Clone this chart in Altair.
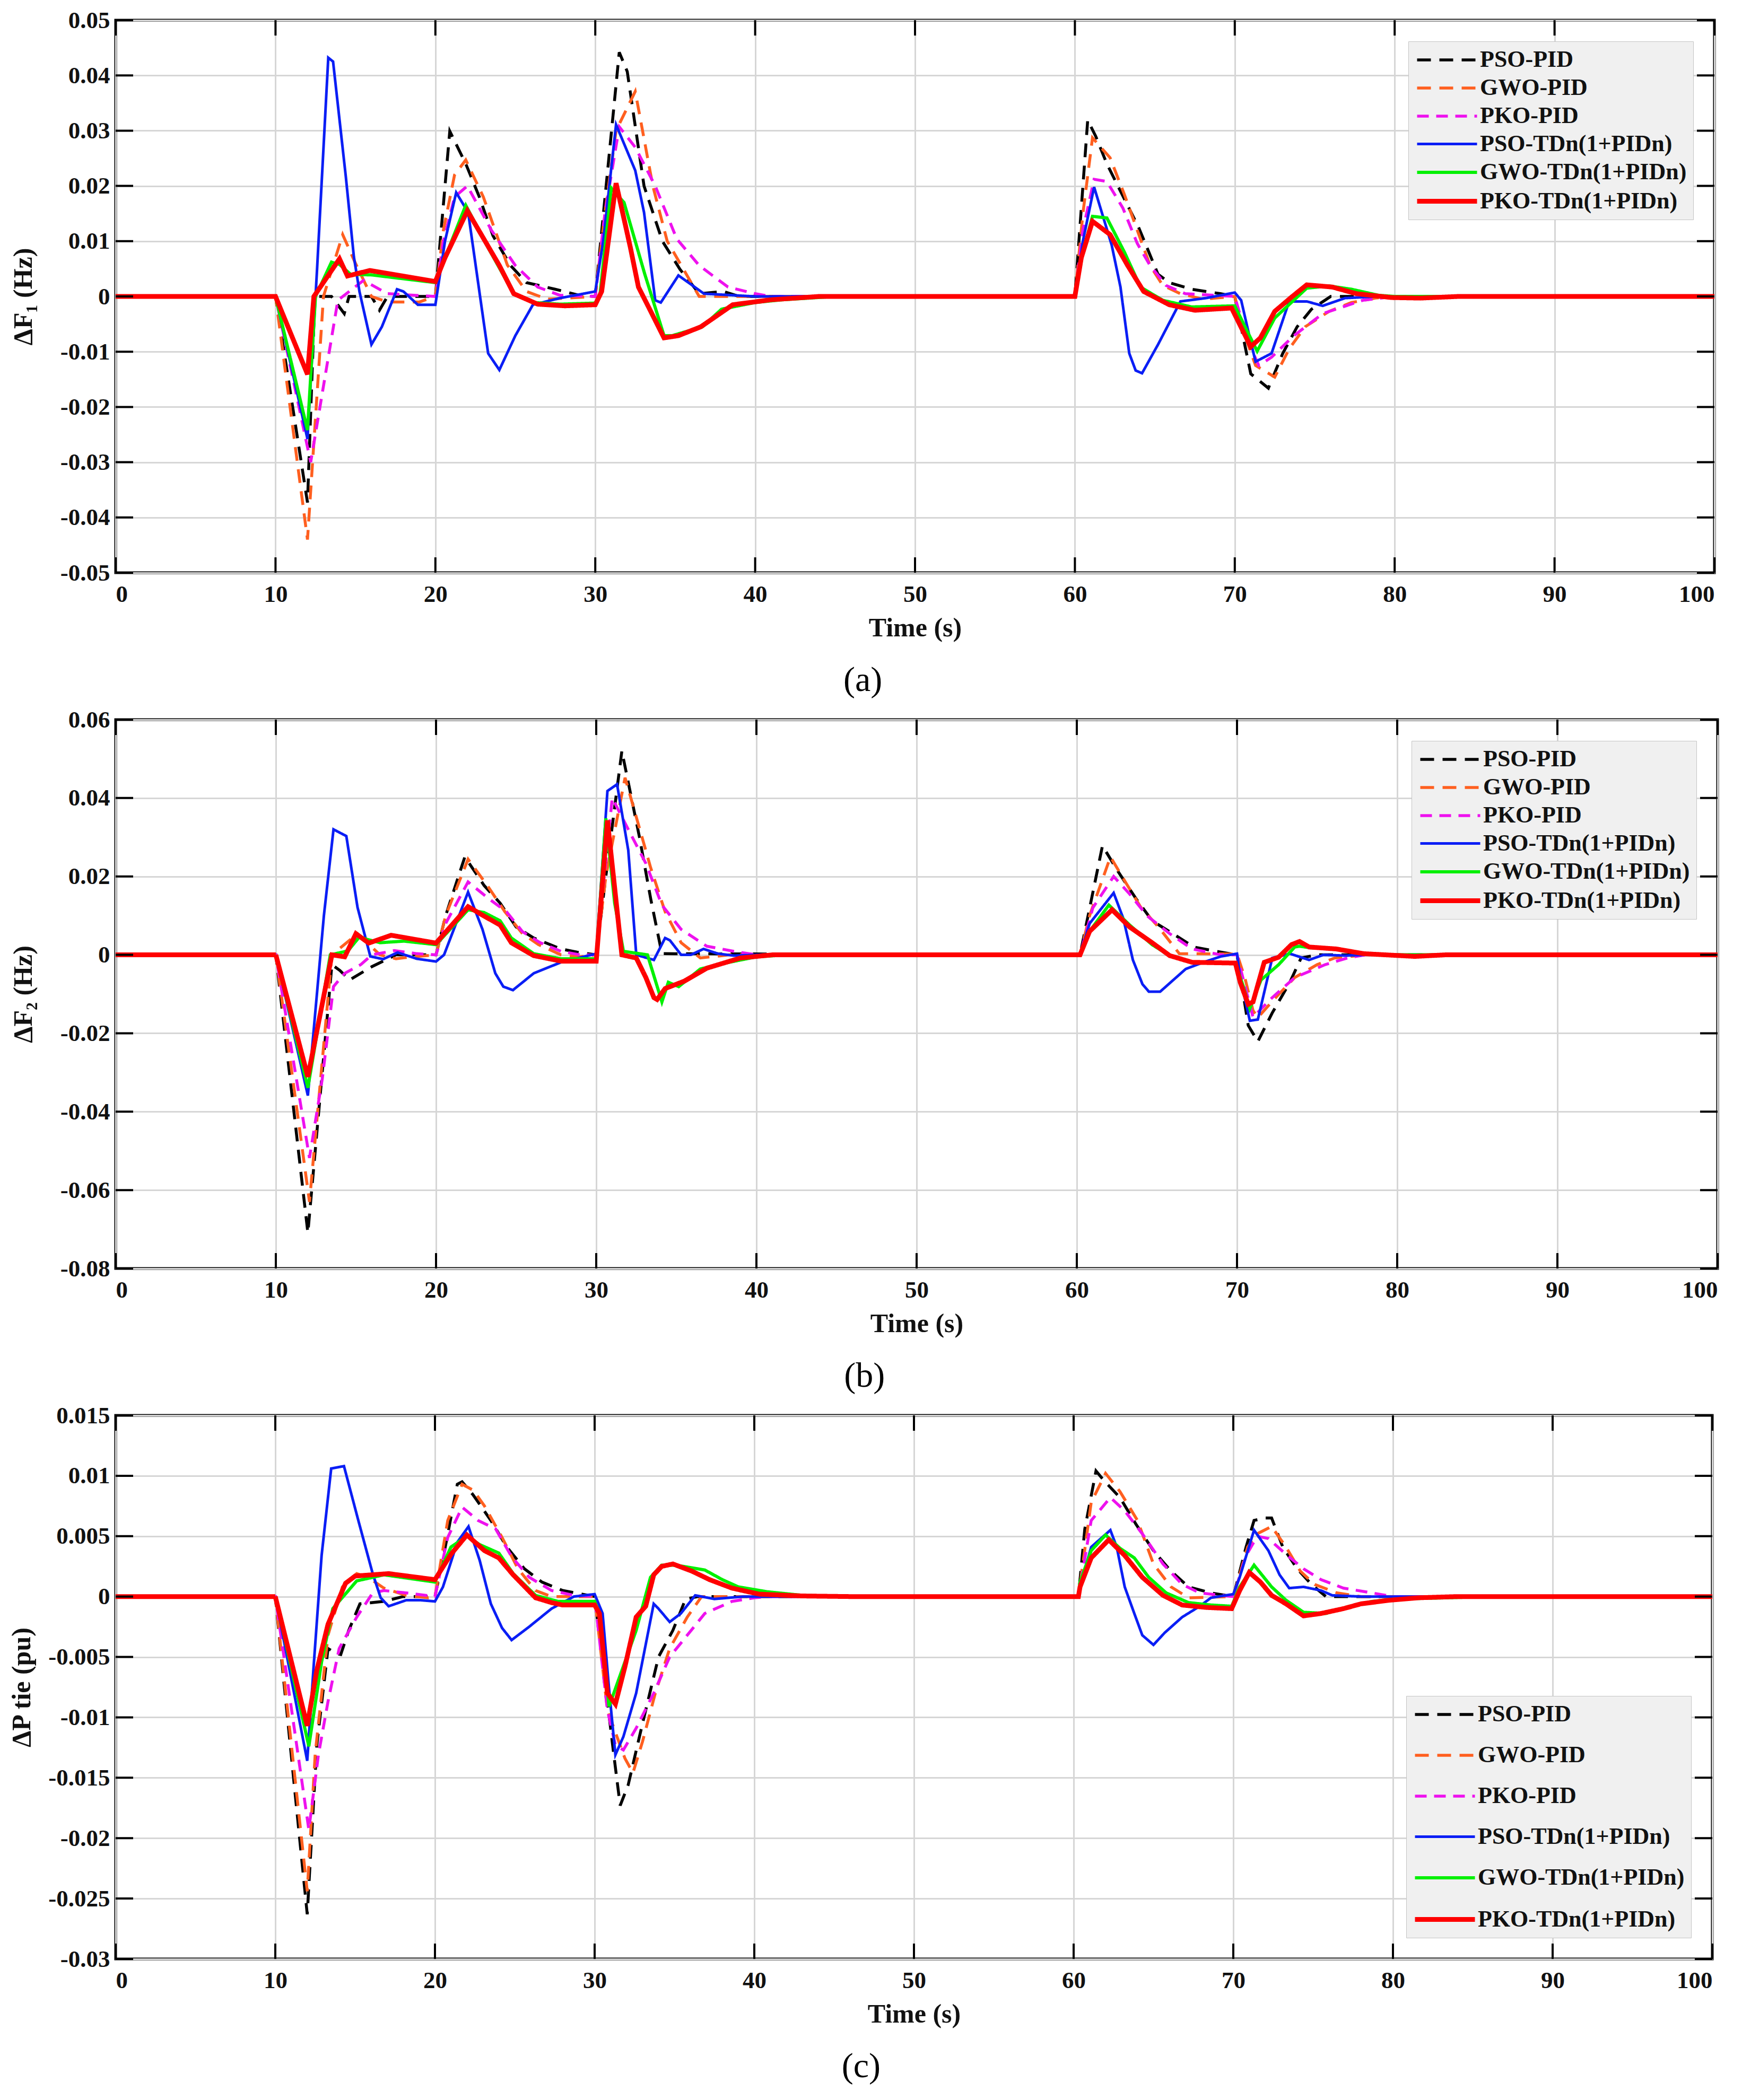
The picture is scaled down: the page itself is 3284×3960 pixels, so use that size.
import altair as alt
import pandas as pd

SERIES = ["PSO-PID", "GWO-PID", "PKO-PID", "PSO-TDn(1+PIDn)", "GWO-TDn(1+PIDn)", "PKO-TDn(1+PIDn)"]
COLORS = ["#000000", "#FF5F1F", "#EE11EE", "#0A1EF5", "#00F000", "#FF0000"]
DASHES = [[26, 16], [26, 16], [22, 14], [1, 0], [1, 0], [1, 0]]
WIDTHS = [5.5, 5.5, 5.5, 5, 6, 9]

XTICKS = [0, 10, 20, 30, 40, 50, 60, 70, 80, 90, 100]
Y_A = [-0.05, -0.04, -0.03, -0.02, -0.01, 0, 0.01, 0.02, 0.03, 0.04, 0.05]
Y_B = [-0.08, -0.06, -0.04, -0.02, 0, 0.02, 0.04, 0.06]
Y_C = [-0.03, -0.025, -0.02, -0.015, -0.01, -0.005, 0, 0.005, 0.01, 0.015]

# ---------------- panel (a): delta F1 ----------------
A_PSO_PID = [(0,0),(10,0),(12,-0.0373),(12.46,0),(13.5,0),(14.3,-0.0031),(14.6,0),(16,0),(16.5,-0.0025),(17,0),(20,0),
             (20.9,0.0299),(21.9,0.024),(22.75,0.018),(23.6,0.011),(24.7,0.0056),(25.7,0.0025),(27.5,0.0013),(29,0.0002),(30,0),
             (31.5,0.0442),(32,0.0407),(33.05,0.020),(34.2,0.010),(35.3,0.0049),(36.5,0.0005),(38,0.0009),(39,0),
             (60,0),(60.8,0.0319),(61.3,0.029),(62,0.024),(63.1,0.0176),(64,0.0124),(65.2,0.004),(65.9,0.0025),(67.3,0.0013),
             (69.1,0.0005),(70,0),(71,-0.014),(72.1,-0.0166),(73,-0.0103),(73.9,-0.0055),(74.8,-0.0023),(76,0),(100,0)]
A_GWO_PID = [(0,0),(10,0),(12,-0.044),(13,0),(14.2,0.0112),(15,0.006),(16,0),(17,-0.001),(19,-0.001),(20,0),
             (20.5,0.012),(21.2,0.022),(21.9,0.0247),(23,0.018),(24.5,0.0057),(25.7,0.0009),(27,-0.0005),(30,0),
             (30.6,0.015),(31.3,0.030),(32.5,0.0371),(33.6,0.02),(34.5,0.01),(35.5,0.005),(36.5,0),
             (60,0),(60.5,0.015),(61.1,0.0287),(62.2,0.0251),(63.1,0.0184),(64,0.0112),(64.7,0.0056),(65.5,0.002),(66.6,0.0005),
             (68,-0.0005),(70,0),(70.5,-0.006),(71.3,-0.0125),(72.5,-0.0146),(73.4,-0.0095),(74.4,-0.0055),(75.9,-0.0027),
             (77.3,-0.0011),(78.8,-0.0003),(80,0),(100,0)]
A_PKO_PID = [(0,0),(10,0),(12.2,-0.030),(13.9,-0.0007),(15.5,0.0029),(17,0.0005),(20,0),
             (20.5,0.010),(21.2,0.018),(22,0.020),(23.5,0.012),(25,0.0056),(26.4,0.0017),(27.8,0.0002),(30,0),
             (30.6,0.015),(31.5,0.0307),(32.5,0.027),(33.75,0.020),(35.1,0.0104),(36.5,0.0056),(38.3,0.0017),(40,0.0005),(41,0),
             (60,0),(60.5,0.012),(61.2,0.0212),(62,0.0208),(63,0.016),(63.9,0.0096),(64.7,0.0056),(65.7,0.002),(66.9,0.0005),
             (70,0),(70.8,-0.008),(71.5,-0.0125),(72.3,-0.011),(73.7,-0.0071),(75.5,-0.0031),(78,-0.0007),(80,0),(100,0)]
A_PSO_TD = [(0,0),(10,0),(12,-0.0258),(12.6,0.005),(13.3,0.0432),(13.6,0.0425),(14.4,0.0216),(14.9,0.0072),(15.25,0.0009),
            (16,-0.0087),(16.65,-0.0055),(17.6,0.0013),(18,0.0009),(18.9,-0.0015),(20,-0.0015),
            (20.6,0.01),(21.3,0.0188),(22.05,0.0152),(22.75,0.0009),(23.3,-0.0103),(24,-0.0133),(25,-0.0071),(26.1,-0.0015),
            (27.8,-0.0003),(30,0.0009),(30.5,0.01),(31.3,0.0311),(32.5,0.0228),(33.05,0.0152),(33.75,-0.0007),(34.1,-0.0011),
            (35.2,0.0038),(36.8,0.0005),(40,0),
            (60,0),(60.5,0.01),(61.2,0.0198),(62.3,0.0093),(62.85,0.0017),(63.4,-0.0103),(63.8,-0.0134),(64.2,-0.0139),
            (65.2,-0.0087),(66.6,-0.0009),(68.2,-0.0003),(70,0.0007),(70.4,-0.0007),(70.9,-0.007),(71.3,-0.0118),(72.3,-0.0103),
            (73.4,-0.0009),(74.5,-0.0009),(75.5,-0.0017),(76.9,-0.0003),(79,0),(100,0)]
A_GWO_TD = [(0,0),(10,0),(12,-0.0242),(12.5,0),(13.5,0.0062),(14,0.0058),(14.7,0.004),(16,0.0039),(20,0.0025),
            (20.6,0.007),(21.9,0.0165),(23.3,0.0088),(24.9,0.0005),(26.1,-0.0011),(27.8,-0.0014),(30,-0.0012),
            (30.3,0.0005),(31,0.0196),(31.8,0.017),(33.1,0.004),(34.3,-0.0071),(34.8,-0.0071),(36.7,-0.0055),(37.9,-0.0023),
            (40,-0.0011),(41.7,-0.0006),(45,0),
            (60,0),(60.5,0.008),(61.1,0.0145),(62,0.0142),(63.1,0.008),(64.1,0.0017),(65.5,-0.0007),(67.3,-0.0019),(70,-0.0017),
            (70.9,-0.007),(71.4,-0.0099),(72.5,-0.0039),(74.5,0.0015),(75.9,0.0019),(77.3,0.0013),(79,0.0002),(80,0),(100,0)]
A_PKO_TD = [(0,0),(10,0),(12,-0.0141),(12.4,0),(14,0.0068),(14.5,0.0037),(15.9,0.0047),(20,0.0027),
            (20.6,0.007),(22,0.0155),(24,0.0056),(24.9,0.0005),(26.4,-0.0014),(28.1,-0.0017),(30,-0.0015),
            (30.4,0.0009),(31.3,0.0205),(32.2,0.0088),(32.7,0.0017),(33.4,-0.0023),(34.3,-0.0075),(35.2,-0.0071),
            (36.6,-0.0055),(38.6,-0.0015),(41,-0.0006),(44,0),
            (60,0),(60.4,0.007),(61.1,0.0136),(62.2,0.0112),(63.3,0.0056),(64.3,0.0009),(65.9,-0.0015),(67.5,-0.0025),
            (69.8,-0.0021),(71,-0.0091),(71.6,-0.0075),(72.5,-0.0027),(73.6,0),(74.5,0.0021),(76.1,0.0017),(77.6,0.0005),
            (79.8,-0.0002),(81.6,-0.0003),(84,0),(100,0)]

# ---------------- panel (b): delta F2 ----------------
B_PSO_PID = [(0,0),(10,0),(12,-0.0709),(13.5,-0.0025),(14,-0.004),(14.6,-0.0064),(16,-0.003),(17.5,0),(20,0),
             (20.6,0.01),(21.8,0.025),(23,0.0177),(24,0.0132),(25,0.0071),(26.1,0.0043),(27.8,0.0015),(28.8,0.0007),(30,0),
             (30.6,0.02),(31.6,0.052),(32.7,0.030),(33.4,0.0143),(34.1,0.0003),
             (60.2,0),(61.6,0.0278),(62.6,0.0211),(63.7,0.0143),(64.7,0.0087),(65.8,0.0059),(67.3,0.002),(68.7,0.0009),(70,0),
             (70.7,-0.018),(71.3,-0.0221),(72.2,-0.0148),(73.3,-0.007),(74,-0.0008),(75,0),(100,0)]
B_GWO_PID = [(0,0),(10,0),(12.1,-0.063),(13.5,0),(15.1,0.0054),(16.5,0),(17.5,-0.001),(18.5,-0.0005),(20,0),
             (20.6,0.01),(22,0.0244),(23.2,0.0177),(24.3,0.011),(25.4,0.0054),(26.4,0.0026),(27.8,0),(29,-0.0005),(30,0),
             (30.6,0.02),(31.8,0.0452),(32.7,0.0323),(33.4,0.0222),(34.3,0.011),(35.3,0.0031),(36.5,-0.0008),(38.3,0),
             (60.2,0),(60.8,0.01),(62.1,0.025),(63,0.0188),(64,0.0121),(65.1,0.0071),(66.4,0.0003),(70,0.0002),
             (70.5,-0.006),(71,-0.0142),(71.3,-0.016),(72.3,-0.0114),(73.6,-0.0058),(75,-0.0025),(76.1,-0.0008),(78,0),(100,0)]
B_PKO_PID = [(0,0),(10,0),(12.1,-0.0518),(12.9,-0.0316),(13.6,-0.0081),(14.3,-0.0047),(15.3,-0.0025),(16,0),(17.4,0.0011),
             (18.8,0.0003),(20,0),(20.6,0.008),(22,0.0186),(23.3,0.0143),(24.4,0.011),(25.4,0.0059),(26.5,0.0031),
             (27.8,0.0009),(29,0),(30,0),(31,0.040),(32,0.032),(33.1,0.0233),(34.1,0.0127),(35.3,0.0065),(36.9,0.0022),
             (38.6,0.0009),(40,0),
             (60.2,0),(61,0.012),(62.3,0.02),(63.3,0.0155),(64.4,0.0099),(65.8,0.0054),(67.2,0.0015),(69,0),(70,0),
             (70.5,-0.008),(71,-0.0159),(72.2,-0.0109),(73.6,-0.0058),(75.5,-0.0025),(76.9,-0.0008),(78,0),(100,0)]
B_PSO_TD = [(0,0),(10,0),(12,-0.0359),(13,0.01),(13.6,0.032),(14.4,0.0303),(15.1,0.0121),(15.9,-0.0004),(16.7,-0.0011),
            (17.6,0.0006),(18.8,-0.001),(20,-0.0017),(20.5,0),(22,0.016),(22.9,0.0065),(23.7,-0.0047),(24.2,-0.0081),
            (24.8,-0.009),(26.1,-0.0047),(27.8,-0.0019),(30,0.0003),(30.7,0.0418),(31.3,0.0435),(32,0.0267),(32.5,0),
            (33.6,-0.0013),(34.3,0.0043),(34.6,0.0037),(35.3,0),(35.9,0),(36.7,0.0015),(37.6,0.0003),(38.6,-0.0002),(40,0),
            (60.2,0),(60.8,0.008),(62.3,0.0158),(62.9,0.0093),(63.5,-0.0013),(64.1,-0.0075),(64.5,-0.0094),(65.2,-0.0094),
            (66.8,-0.0036),(67.9,-0.0019),(69,-0.0004),(70,0.0003),(70.2,-0.0058),(70.8,-0.0168),(71.3,-0.0165),
            (72.2,-0.0008),(73.3,0.0003),(74.5,-0.0013),(75.4,0),(76.8,-0.0002),(78,0),(100,0)]
B_GWO_TD = [(0,0),(10,0),(12,-0.0339),(13.4,0),(14.5,0.001),(15.2,0.0045),(16.5,0.0031),(18,0.0035),(20,0.0026),
            (22,0.0115),(23,0.0108),(24,0.0087),(24.7,0.0043),(26.1,0.0003),(27.8,-0.001),(30,-0.001),
            (30.6,0.0348),(31.15,0.0132),(31.7,0.0009),(33.2,0),(34.1,-0.012),(34.5,-0.007),(35.15,-0.0081),(36.5,-0.0036),
            (38.3,-0.0019),(40,-0.0005),(42,0),
            (60.2,0),(60.8,0.006),(62,0.0127),(63.3,0.0076),(64.7,0.0026),(65.8,-0.0002),(67.2,-0.0019),(69.9,-0.0022),
            (70.4,-0.0081),(70.8,-0.0137),(71.5,-0.0064),(72.6,-0.0025),(73.6,0.002),(73.9,0.0022),(74.6,0.0018),
            (76.1,0.0015),(77.9,0.0003),(79,0),(100,0)]
B_PKO_TD = [(0,0),(10,0),(12,-0.0311),(13.5,0),(14.3,-0.0005),(15,0.0054),(15.8,0.003),(17.2,0.005),(20,0.003),
            (22,0.0123),(23,0.0099),(24,0.0076),(24.7,0.0031),(26.1,-0.0002),(27.8,-0.0016),(30,-0.0016),
            (30.7,0.0343),(31.6,0),(32.5,-0.0008),(33.1,-0.0058),(33.6,-0.0109),(33.8,-0.0114),(34.3,-0.0086),
            (35.5,-0.0067),(36.9,-0.0034),(39,-0.0008),(41,0),
            (60.2,0),(60.8,0.006),(62.2,0.0115),(63.3,0.0071),(64.7,0.0031),(65.8,-0.0002),(67.2,-0.0019),(69.9,-0.0021),
            (70.2,-0.007),(70.7,-0.0126),(71,-0.012),(71.7,-0.0019),(72.6,-0.0006),(73.4,0.0026),(73.9,0.0034),(74.5,0.002),
            (76.2,0.0015),(77.9,0.0003),(81.1,-0.0004),(83,0),(100,0)]

# ---------------- panel (c): delta P tie ----------------
C_PSO_PID = [(0,0),(10,0),(12,-0.0263),(12.6,-0.0123),(13.3,-0.0043),(13.8,-0.0047),(14.1,-0.0048),(14.6,-0.0028),
             (15.3,-0.0006),(16.8,-0.0004),(18,0),(20,0),(20.6,0.0038),(21.4,0.0093),(21.7,0.0095),(22.4,0.0084),
             (23.5,0.0063),(24.5,0.0041),(25.6,0.0023),(26.7,0.0012),(28,0.0005),(30,0),(30.8,-0.0087),(31.2,-0.0131),
             (31.6,-0.0173),(32.1,-0.0156),(33,-0.0105),(34,-0.005),(34.9,-0.0028),(35.7,-0.0002),(36.5,0),
             (60.3,0),(60.7,0.0056),(61.4,0.0104),(61.9,0.0096),(62.9,0.0082),(63.9,0.006),(65,0.0038),(66.1,0.0021),
             (67.2,0.0008),(68.6,0.0003),(70,0),(70.8,0.0041),(71.3,0.0063),(72,0.0065),(72.4,0.0065),(73.1,0.0041),
             (74,0.0023),(74.9,0.001),(75.8,0),(100,0)]
C_GWO_PID = [(0,0),(10,0),(12,-0.0244),(12.5,-0.013),(13.3,-0.0032),(14.2,0.0008),(15.1,0.0019),(15.8,0.0016),
             (16.8,0.0007),(18.2,0.0001),(19.6,-0.0001),(20,0),(20.8,0.0063),(21.7,0.0093),(22.4,0.0088),(23.1,0.0075),
             (24.2,0.0049),(25.2,0.0023),(26.3,0.0005),(27.3,0),(30,0),(30.8,-0.0094),(31.4,-0.0116),(31.9,-0.0134),
             (32.4,-0.0146),(33,-0.012),(33.8,-0.008),(34.7,-0.0043),(35.8,-0.0017),(36.7,0),
             (60.3,0),(61.1,0.0078),(62,0.0102),(62.9,0.0087),(64,0.0063),(65,0.0027),(66.1,0.0008),(67.2,-0.0001),(70,0),
             (70.9,0.0041),(71.5,0.0052),(72.4,0.0058),(73.3,0.0041),(74.2,0.0021),(75.1,0.001),(76.5,0.0003),(78,0),(100,0)]
C_PKO_PID = [(0,0),(10,0),(12.1,-0.0193),(12.7,-0.0131),(13.3,-0.0087),(14,-0.0043),(15.1,-0.0017),(16.1,0.0003),
             (16.8,0.0005),(18.2,0.0003),(20,0),(20.8,0.0049),(21.7,0.0074),(22.7,0.0063),(23.8,0.0056),(24.8,0.0033),
             (25.9,0.0016),(27.3,0.0005),(28.7,0.0001),(30,0),(30.8,-0.0094),(31.3,-0.0123),(31.8,-0.0127),(32.6,-0.0109),
             (33.7,-0.008),(34.7,-0.005),(35.8,-0.0032),(36.9,-0.0014),(38.6,-0.0004),(40,-0.0001),(41,0),
             (60.3,0),(61.1,0.0063),(62.3,0.0082),(63.2,0.0071),(64.3,0.0052),(65.6,0.0027),(66.8,0.001),(67.9,0.0003),
             (70,0),(70.8,0.0034),(71.5,0.005),(72.2,0.0048),(73.3,0.0035),(74.4,0.0023),(75.5,0.0014),(76.9,0.0007),
             (78.7,0.0003),(80,0),(100,0)]
C_PSO_TD = [(0,0),(10,0),(12,-0.0136),(12.4,-0.0058),(12.9,0.0034),(13.5,0.0106),(14.3,0.0108),(15.2,0.0063),
            (16.1,0.0019),(16.6,-0.0001),(17.1,-0.0008),(18.2,-0.0003),(19.1,-0.0003),(20,-0.0004),(20.5,0.0008),
            (21.4,0.0045),(22.1,0.0058),(22.8,0.003),(23.5,-0.0006),(24.2,-0.0026),(24.8,-0.0036),(25.9,-0.0025),
            (27.3,-0.001),(28.7,0),(30,0.0002),(30.5,-0.0014),(30.9,-0.0076),(31.3,-0.0131),(31.8,-0.0116),(32.6,-0.008),
            (33.7,-0.0006),(34,-0.001),(34.7,-0.0021),(35.4,-0.0014),(36.3,0.0001),(37.5,-0.0002),(39.3,0),
            (60.3,0),(60.4,0.0008),(61.1,0.0041),(62.3,0.0055),(62.7,0.0041),(63.2,0.0008),(63.8,-0.0014),(64.3,-0.0032),
            (65,-0.004),(65.7,-0.003),(66.8,-0.0017),(67.9,-0.0008),(68.6,-0.0001),(70,0.0002),(70.4,0.0016),(71.3,0.0055),
            (72.2,0.0038),(72.9,0.0018),(73.5,0.0007),(74.4,0.0008),(75.5,0.0005),(76.2,0.0001),(78,0),(100,0)]
C_GWO_TD = [(0,0),(10,0),(12.1,-0.0124),(12.9,-0.0054),(13.6,-0.001),(15.1,0.0013),(16.8,0.0018),(20,0.0012),
            (21,0.0041),(22,0.005),(22.8,0.0043),(24,0.0036),(24.9,0.0019),(26.3,0.0001),(27.7,-0.0004),(30,-0.0004),
            (30.3,-0.0014),(30.9,-0.0091),(31.2,-0.008),(31.9,-0.0054),(32.6,-0.0028),(33.5,0.0016),(34.2,0.0026),
            (35.1,0.0026),(36.9,0.0022),(38,0.0014),(39,0.0008),(40.8,0.0004),(43,0.0001),(46,0),
            (60.3,0),(60.4,0.0012),(61.1,0.0038),(62,0.0051),(62.9,0.004),(63.8,0.0032),(64.7,0.0016),(65.8,0.0003),
            (67.2,-0.0005),(68.6,-0.0007),(69.9,-0.0008),(70.4,0.0008),(71.3,0.0026),(72.4,0.0008),(73.3,-0.0003),
            (74.4,-0.0013),(75.8,-0.0014),(77.3,-0.0008),(78.7,-0.0004),(80.2,-0.0002),(83.4,-0.0001),(86,0),(100,0)]
C_PKO_TD = [(0,0),(10,0),(12,-0.0107),(12.6,-0.0061),(13.3,-0.0023),(14.4,0.0011),(15,0.0017),(17.1,0.0019),
            (20,0.0014),(21,0.0035),(22,0.0051),(23.1,0.0038),(24,0.0032),(24.9,0.0018),(26.3,-0.0001),(27.3,-0.0005),
            (28,-0.0007),(30,-0.0007),(30.3,-0.0014),(30.8,-0.008),(31.3,-0.0089),(31.9,-0.0058),(32.6,-0.0017),
            (33.2,-0.0008),(33.7,0.0018),(34.2,0.0025),(34.9,0.0027),(36.1,0.0021),(37.2,0.0014),(38.6,0.0007),
            (40.3,0.0002),(43,0.00005),(46,0),
            (60.3,0),(60.4,0.0008),(61.1,0.0032),(62.2,0.0047),(63.2,0.0034),(64.3,0.0016),(65.6,0.0001),(66.8,-0.0007),
            (68.3,-0.0009),(69.9,-0.001),(70.4,0.0005),(71,0.002),(71.7,0.0012),(72.4,0.0001),(73.3,-0.0006),
            (74.4,-0.0016),(75.5,-0.0014),(76.9,-0.001),(78,-0.0006),(79.8,-0.0003),(81.6,-0.0001),(84,0),(100,0)]

FONT = "Liberation Serif"
TXT = "#111111"
# legend line symbol: a horizontal stroke, drawn longer than its layout box
LEGEND_SYMBOL = "M-1,0H4.65"


def to_frame(series_points):
    rows = []
    for name, pts in zip(SERIES, series_points):
        for t, v in pts:
            rows.append({"t": t, "v": v, "series": name})
    return pd.DataFrame(rows)


def panel(series_points, yvals, ytitle, caption, W, H, legend_orient, row_pad, ytitle_pad):
    df = to_frame(series_points)
    xscale = alt.Scale(domain=[0, 100], nice=False, zero=False)
    yscale = alt.Scale(domain=[yvals[0], yvals[-1]], nice=False, zero=False)
    xaxis = alt.Axis(values=XTICKS, format="d", title="Time (s)", ticks=False, domain=False,
                     labelPadding=18, titlePadding=16)
    yaxis = alt.Axis(values=yvals, title=ytitle, ticks=False, domain=False, labelPadding=11,
                     titlePadding=ytitle_pad,
                     labelExpr="(datum.value < 0 ? '-' : '') + format(abs(datum.value), '~g')")
    leg = alt.Legend(
        title=None, orient=legend_orient, offset=40, fillColor="#f0f0f0", strokeColor="#c4c4c4",
        padding=12, labelFont=FONT, labelFontWeight="bold", labelFontSize=44, labelColor=TXT,
        labelLimit=1000, symbolType=LEGEND_SYMBOL, symbolSize=1600, labelOffset=74, rowPadding=row_pad,
    )
    lines = alt.Chart(df).mark_line(clip=True).encode(
        x=alt.X("t:Q", scale=xscale, axis=xaxis),
        y=alt.Y("v:Q", scale=yscale, axis=yaxis),
        color=alt.Color("series:N", scale=alt.Scale(domain=SERIES, range=COLORS), legend=leg),
        strokeDash=alt.StrokeDash("series:N", scale=alt.Scale(domain=SERIES, range=DASHES), legend=leg),
        strokeWidth=alt.StrokeWidth("series:N", scale=alt.Scale(type="ordinal", domain=SERIES, range=WIDTHS), legend=leg),
    )
    xt = pd.DataFrame({"t": XTICKS})
    yt = pd.DataFrame({"v": yvals})
    tick_top = alt.Chart(xt).mark_rule(color="black", strokeWidth=4).encode(
        x=alt.X("t:Q", scale=xscale, axis=xaxis), y=alt.value(0), y2=alt.value(29))
    tick_bot = alt.Chart(xt).mark_rule(color="black", strokeWidth=4).encode(
        x=alt.X("t:Q", scale=xscale, axis=xaxis), y=alt.value(H), y2=alt.value(H - 29))
    tick_left = alt.Chart(yt).mark_rule(color="black", strokeWidth=4).encode(
        y=alt.Y("v:Q", scale=yscale, axis=yaxis), x=alt.value(0), x2=alt.value(33))
    tick_right = alt.Chart(yt).mark_rule(color="black", strokeWidth=4).encode(
        y=alt.Y("v:Q", scale=yscale, axis=yaxis), x=alt.value(W - 33), x2=alt.value(W))
    return alt.layer(lines, tick_top, tick_bot, tick_left, tick_right).properties(
        width=W, height=H,
        title=alt.TitleParams(caption, orient="bottom", anchor="middle", frame="bounds", offset=42,
                              font=FONT, fontSize=66, fontWeight="normal", color="black"),
    )


pa = panel([A_PSO_PID, A_GWO_PID, A_PKO_PID, A_PSO_TD, A_GWO_TD, A_PKO_TD], Y_A,
           "ΔF₁ (Hz)", "(a)", 3014, 1042, "top-right", 8, 44)
pb = panel([B_PSO_PID, B_GWO_PID, B_PKO_PID, B_PSO_TD, B_GWO_TD, B_PKO_TD], Y_B,
           "ΔF₂ (Hz)", "(b)", 3020, 1035, "top-right", 8, 44)
pc = panel([C_PSO_PID, C_GWO_PID, C_PKO_PID, C_PSO_TD, C_GWO_TD, C_PKO_TD], Y_C,
           "ΔP tie (pu)", "(c)", 3010, 1025, "bottom-right", 32, 24)

chart = alt.vconcat(pa, pb, pc, spacing=13).resolve_scale(
    color="independent", strokeDash="independent", strokeWidth="independent"
).properties(
    padding={"left": 6, "top": 5, "right": 5, "bottom": 5}, background="white"
).configure_view(
    stroke="black", strokeWidth=5
).configure_axis(
    labelFont=FONT, labelFontWeight="bold", labelFontSize=45, labelColor=TXT,
    titleFont=FONT, titleFontWeight="bold", titleFontSize=50, titleColor=TXT,
    grid=True, gridColor="#d6d6d6", gridWidth=3,
)

chart.save("out.html", embed_options={"renderer": "svg", "actions": False})
